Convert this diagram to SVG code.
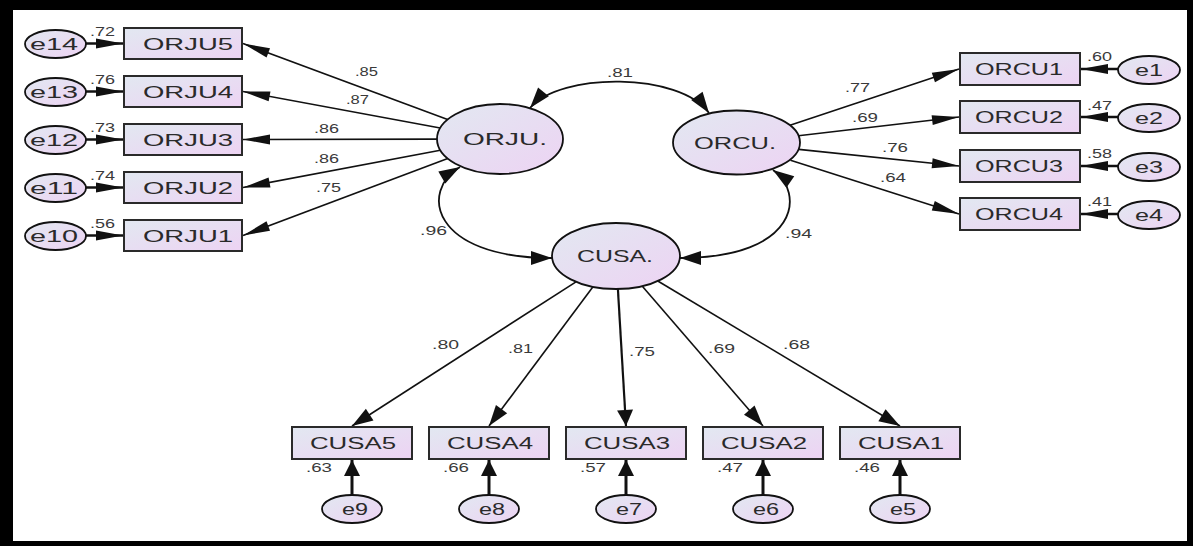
<svg xmlns="http://www.w3.org/2000/svg" width="1193" height="546" viewBox="0 0 1193 546">
<style>
.box{fill:url(#gf);stroke:#2a2a2a;stroke-width:2}
.lat{fill:url(#gf);stroke:#111;stroke-width:1.8}
.err{fill:url(#gf);stroke:#111;stroke-width:1.8}
.t{font-family:"Liberation Sans",Arial,sans-serif;font-size:16px;fill:#2a2a2a;text-anchor:middle}
.tl{font-family:"Liberation Sans",Arial,sans-serif;font-size:17px;fill:#2a2a2a;text-anchor:middle}
.c{font-family:"Liberation Sans",Arial,sans-serif;font-size:12px;fill:#3a3a3a}
.ln{fill:none;stroke:#111;stroke-width:1.6}
.lv{fill:none;stroke:#111;stroke-width:2.2}
.eb{fill:none;stroke:#111;stroke-width:2.5}
.ev{fill:none;stroke:#111;stroke-width:3}
.arc{fill:none;stroke:#111;stroke-width:1.8}
</style>
<defs>
<linearGradient id="gf" x1="0" y1="0" x2="1" y2="1">
<stop offset="0" stop-color="#e2e8f1"/>
<stop offset="1" stop-color="#edd3f3"/>
</linearGradient>
<marker id="ah" markerUnits="userSpaceOnUse" orient="auto-start-reverse" overflow="visible" markerWidth="1" markerHeight="1" refX="0" refY="0"><path d="M0,0 L-27,-5 L-27,5 Z" fill="#111"/></marker>
<marker id="ab" markerUnits="userSpaceOnUse" orient="auto" overflow="visible" markerWidth="1" markerHeight="1" refX="0" refY="0"><path d="M0,0 L-27,-5 L-27,5 Z" fill="#111"/></marker>
<marker id="av" markerUnits="userSpaceOnUse" orient="auto" overflow="visible" markerWidth="1" markerHeight="1" refX="0" refY="0"><path d="M0,0 L-16,-8 L-16,8 Z" fill="#111"/></marker>
<marker id="ad" markerUnits="userSpaceOnUse" orient="auto-start-reverse" overflow="visible" markerWidth="1" markerHeight="1" refX="0" refY="0"><path d="M0,0 L-21,-7 L-21,7 Z" fill="#111"/></marker>
</defs>
<rect x="0" y="0" width="1193" height="546" fill="#000"/>
<rect x="13" y="10" width="1174" height="531" fill="#fff"/>

<g id="connectors">
<line class="ln" x1="447.6" y1="119.6" x2="243" y2="43.5" marker-end="url(#ah)"/>
<line class="ln" x1="440.2" y1="128" x2="243" y2="91.5" marker-end="url(#ah)"/>
<line class="ln" x1="437" y1="139.1" x2="243" y2="139.5" marker-end="url(#ah)"/>
<line class="ln" x1="440.3" y1="150.2" x2="243" y2="187.5" marker-end="url(#ah)"/>
<line class="ln" x1="447.7" y1="158.6" x2="243" y2="235.5" marker-end="url(#ah)"/>
<line class="ln" x1="790" y1="125.2" x2="959" y2="69" marker-end="url(#ah)"/>
<line class="ln" x1="798.4" y1="135.8" x2="959" y2="117" marker-end="url(#ah)"/>
<line class="ln" x1="798.8" y1="149.4" x2="959" y2="166" marker-end="url(#ah)"/>
<line class="ln" x1="790.5" y1="160.3" x2="959" y2="214" marker-end="url(#ah)"/>
<line class="ln" x1="576" y1="281.8" x2="352" y2="426" marker-end="url(#ad)"/>
<line class="ln" x1="593" y1="286.8" x2="489" y2="426" marker-end="url(#ad)"/>
<line class="lv" x1="617.9" y1="289" x2="626" y2="426" marker-end="url(#av)"/>
<line class="ln" x1="642.1" y1="286.1" x2="763" y2="426" marker-end="url(#ad)"/>
<line class="ln" x1="657.8" y1="281" x2="900" y2="426" marker-end="url(#ad)"/>
<path class="arc" d="M530,108 C560,72 680,72 709,113" marker-start="url(#ad)" marker-end="url(#ad)"/>
<path class="arc" d="M460,167 C420,190 430,258 552,258" marker-start="url(#ad)" marker-end="url(#ad)"/>
<path class="arc" d="M773,170 C805,192 800,258 680,258" marker-start="url(#ad)" marker-end="url(#ad)"/>
<line class="eb" x1="86" y1="43.5" x2="123" y2="43.5" marker-end="url(#ab)"/>
<line class="eb" x1="86" y1="91.5" x2="123" y2="91.5" marker-end="url(#ab)"/>
<line class="eb" x1="86" y1="139.5" x2="123" y2="139.5" marker-end="url(#ab)"/>
<line class="eb" x1="86" y1="187.5" x2="123" y2="187.5" marker-end="url(#ab)"/>
<line class="eb" x1="86" y1="235.5" x2="123" y2="235.5" marker-end="url(#ab)"/>
<line class="eb" x1="1118" y1="69" x2="1081" y2="69" marker-end="url(#ab)"/>
<line class="eb" x1="1118" y1="117" x2="1081" y2="117" marker-end="url(#ab)"/>
<line class="eb" x1="1118" y1="166" x2="1081" y2="166" marker-end="url(#ab)"/>
<line class="eb" x1="1118" y1="214" x2="1081" y2="214" marker-end="url(#ab)"/>
<line class="ev" x1="352" y1="495" x2="352" y2="460" marker-end="url(#av)"/>
<line class="ev" x1="489" y1="495" x2="489" y2="460" marker-end="url(#av)"/>
<line class="ev" x1="626" y1="495" x2="626" y2="460" marker-end="url(#av)"/>
<line class="ev" x1="763" y1="495" x2="763" y2="460" marker-end="url(#av)"/>
<line class="ev" x1="900" y1="495" x2="900" y2="460" marker-end="url(#av)"/>
<text class="c" x="355" y="76" textLength="23" lengthAdjust="spacingAndGlyphs">.85</text>
<text class="c" x="346" y="104" textLength="23" lengthAdjust="spacingAndGlyphs">.87</text>
<text class="c" x="314" y="133" textLength="25" lengthAdjust="spacingAndGlyphs">.86</text>
<text class="c" x="314" y="163" textLength="25" lengthAdjust="spacingAndGlyphs">.86</text>
<text class="c" x="316" y="192" textLength="25" lengthAdjust="spacingAndGlyphs">.75</text>
<text class="c" x="845" y="92" textLength="25" lengthAdjust="spacingAndGlyphs">.77</text>
<text class="c" x="852" y="122" textLength="26" lengthAdjust="spacingAndGlyphs">.69</text>
<text class="c" x="882" y="152" textLength="26" lengthAdjust="spacingAndGlyphs">.76</text>
<text class="c" x="880" y="182" textLength="26" lengthAdjust="spacingAndGlyphs">.64</text>
<text class="c" x="607" y="77" textLength="26" lengthAdjust="spacingAndGlyphs">.81</text>
<text class="c" x="420" y="235" textLength="27" lengthAdjust="spacingAndGlyphs">.96</text>
<text class="c" x="785" y="238" textLength="27" lengthAdjust="spacingAndGlyphs">.94</text>
<text class="c" x="432" y="349" textLength="27" lengthAdjust="spacingAndGlyphs">.80</text>
<text class="c" x="508" y="353" textLength="25" lengthAdjust="spacingAndGlyphs">.81</text>
<text class="c" x="629" y="356" textLength="26" lengthAdjust="spacingAndGlyphs">.75</text>
<text class="c" x="708" y="353" textLength="27" lengthAdjust="spacingAndGlyphs">.69</text>
<text class="c" x="783" y="349" textLength="27" lengthAdjust="spacingAndGlyphs">.68</text>
</g>

<g id="ORJU">
<ellipse class="lat" cx="500" cy="139" rx="63" ry="35"/>
<text class="tl" x="505" y="145" textLength="84" lengthAdjust="spacingAndGlyphs">ORJU.</text>
</g>
<g id="ORCU">
<ellipse class="lat" cx="736.5" cy="142.5" rx="63.5" ry="32"/>
<text class="tl" x="735" y="148.5" textLength="82" lengthAdjust="spacingAndGlyphs">ORCU.</text>
</g>
<g id="CUSA">
<ellipse class="lat" cx="616" cy="256" rx="64" ry="33"/>
<text class="tl" x="615" y="262" textLength="76" lengthAdjust="spacingAndGlyphs">CUSA.</text>
</g>

<g id="ORJU5"><rect class="box" x="124" y="28" width="118" height="31"/><text class="t" x="188" y="49.5" textLength="90" lengthAdjust="spacingAndGlyphs">ORJU5</text></g>
<g id="ORJU4"><rect class="box" x="124" y="76" width="118" height="31"/><text class="t" x="188" y="97.5" textLength="90" lengthAdjust="spacingAndGlyphs">ORJU4</text></g>
<g id="ORJU3"><rect class="box" x="124" y="124" width="118" height="31"/><text class="t" x="188" y="145.5" textLength="90" lengthAdjust="spacingAndGlyphs">ORJU3</text></g>
<g id="ORJU2"><rect class="box" x="124" y="172" width="118" height="31"/><text class="t" x="188" y="193.5" textLength="90" lengthAdjust="spacingAndGlyphs">ORJU2</text></g>
<g id="ORJU1"><rect class="box" x="124" y="220" width="118" height="31"/><text class="t" x="188" y="241.5" textLength="90" lengthAdjust="spacingAndGlyphs">ORJU1</text></g>

<g id="ORCU1"><rect class="box" x="960" y="53" width="120" height="32"/><text class="t" x="1019" y="75" textLength="88" lengthAdjust="spacingAndGlyphs">ORCU1</text></g>
<g id="ORCU2"><rect class="box" x="960" y="101" width="120" height="32"/><text class="t" x="1019" y="123" textLength="88" lengthAdjust="spacingAndGlyphs">ORCU2</text></g>
<g id="ORCU3"><rect class="box" x="960" y="150" width="120" height="32"/><text class="t" x="1019" y="172" textLength="88" lengthAdjust="spacingAndGlyphs">ORCU3</text></g>
<g id="ORCU4"><rect class="box" x="960" y="198" width="120" height="32"/><text class="t" x="1019" y="220" textLength="88" lengthAdjust="spacingAndGlyphs">ORCU4</text></g>

<g id="CUSA5"><rect class="box" x="292" y="427" width="120" height="32"/><text class="t" x="353" y="449" textLength="86" lengthAdjust="spacingAndGlyphs">CUSA5</text></g>
<g id="CUSA4"><rect class="box" x="429" y="427" width="120" height="32"/><text class="t" x="490" y="449" textLength="86" lengthAdjust="spacingAndGlyphs">CUSA4</text></g>
<g id="CUSA3"><rect class="box" x="566" y="427" width="120" height="32"/><text class="t" x="627" y="449" textLength="86" lengthAdjust="spacingAndGlyphs">CUSA3</text></g>
<g id="CUSA2"><rect class="box" x="703" y="427" width="120" height="32"/><text class="t" x="764" y="449" textLength="86" lengthAdjust="spacingAndGlyphs">CUSA2</text></g>
<g id="CUSA1"><rect class="box" x="840" y="427" width="120" height="32"/><text class="t" x="901" y="449" textLength="86" lengthAdjust="spacingAndGlyphs">CUSA1</text></g>

<g id="e14"><ellipse class="err" cx="55.5" cy="44" rx="30.5" ry="14"/><text class="t" x="54" y="50" textLength="48" lengthAdjust="spacingAndGlyphs">e14</text><text class="c" x="90" y="35.5" textLength="25" lengthAdjust="spacingAndGlyphs">.72</text></g>
<g id="e13"><ellipse class="err" cx="55.5" cy="92" rx="30.5" ry="14"/><text class="t" x="54" y="98" textLength="48" lengthAdjust="spacingAndGlyphs">e13</text><text class="c" x="90" y="83.5" textLength="25" lengthAdjust="spacingAndGlyphs">.76</text></g>
<g id="e12"><ellipse class="err" cx="55.5" cy="140" rx="30.5" ry="14"/><text class="t" x="54" y="146" textLength="48" lengthAdjust="spacingAndGlyphs">e12</text><text class="c" x="90" y="131.5" textLength="25" lengthAdjust="spacingAndGlyphs">.73</text></g>
<g id="e11"><ellipse class="err" cx="55.5" cy="188" rx="30.5" ry="14"/><text class="t" x="54" y="194" textLength="48" lengthAdjust="spacingAndGlyphs">e11</text><text class="c" x="90" y="179.5" textLength="25" lengthAdjust="spacingAndGlyphs">.74</text></g>
<g id="e10"><ellipse class="err" cx="55.5" cy="236" rx="30.5" ry="14"/><text class="t" x="54" y="242" textLength="48" lengthAdjust="spacingAndGlyphs">e10</text><text class="c" x="90" y="227.5" textLength="25" lengthAdjust="spacingAndGlyphs">.56</text></g>

<g id="e1"><ellipse class="err" cx="1149" cy="70" rx="31" ry="14"/><text class="t" x="1149" y="76" textLength="28" lengthAdjust="spacingAndGlyphs">e1</text><text class="c" x="1087" y="61" textLength="25" lengthAdjust="spacingAndGlyphs">.60</text></g>
<g id="e2"><ellipse class="err" cx="1149" cy="118" rx="31" ry="14"/><text class="t" x="1149" y="124" textLength="28" lengthAdjust="spacingAndGlyphs">e2</text><text class="c" x="1087" y="110" textLength="25" lengthAdjust="spacingAndGlyphs">.47</text></g>
<g id="e3"><ellipse class="err" cx="1149" cy="167" rx="31" ry="14"/><text class="t" x="1149" y="173" textLength="28" lengthAdjust="spacingAndGlyphs">e3</text><text class="c" x="1087" y="158" textLength="25" lengthAdjust="spacingAndGlyphs">.58</text></g>
<g id="e4"><ellipse class="err" cx="1149" cy="215" rx="31" ry="14"/><text class="t" x="1149" y="221" textLength="28" lengthAdjust="spacingAndGlyphs">e4</text><text class="c" x="1087" y="206" textLength="25" lengthAdjust="spacingAndGlyphs">.41</text></g>

<g id="e9"><ellipse class="err" cx="352" cy="509" rx="30" ry="14"/><text class="t" x="355" y="515" textLength="26" lengthAdjust="spacingAndGlyphs">e9</text><text class="c" x="306" y="472" textLength="26" lengthAdjust="spacingAndGlyphs">.63</text></g>
<g id="e8"><ellipse class="err" cx="489" cy="509" rx="30" ry="14"/><text class="t" x="492" y="515" textLength="26" lengthAdjust="spacingAndGlyphs">e8</text><text class="c" x="443" y="472" textLength="26" lengthAdjust="spacingAndGlyphs">.66</text></g>
<g id="e7"><ellipse class="err" cx="626" cy="509" rx="30" ry="14"/><text class="t" x="629" y="515" textLength="26" lengthAdjust="spacingAndGlyphs">e7</text><text class="c" x="580" y="472" textLength="26" lengthAdjust="spacingAndGlyphs">.57</text></g>
<g id="e6"><ellipse class="err" cx="763" cy="509" rx="30" ry="14"/><text class="t" x="766" y="515" textLength="26" lengthAdjust="spacingAndGlyphs">e6</text><text class="c" x="717" y="472" textLength="26" lengthAdjust="spacingAndGlyphs">.47</text></g>
<g id="e5"><ellipse class="err" cx="900" cy="509" rx="30" ry="14"/><text class="t" x="903" y="515" textLength="26" lengthAdjust="spacingAndGlyphs">e5</text><text class="c" x="854" y="472" textLength="26" lengthAdjust="spacingAndGlyphs">.46</text></g>
</svg>
